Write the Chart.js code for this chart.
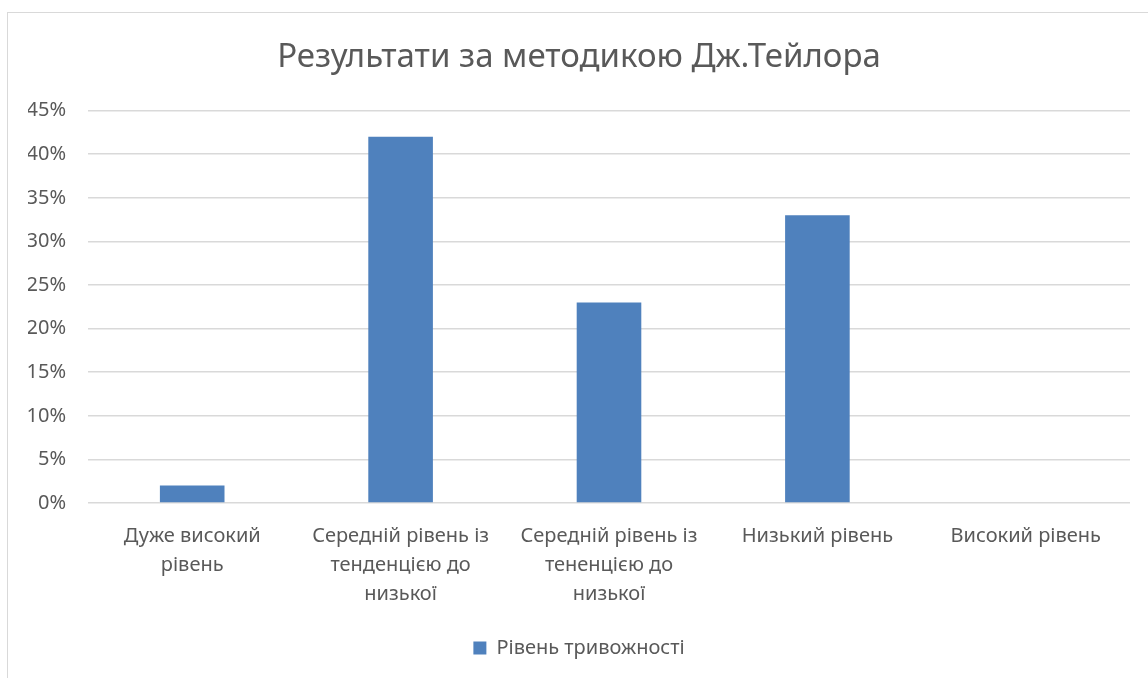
<!DOCTYPE html>
<html>
<head>
<meta charset="utf-8">
<script src="https://cdn.jsdelivr.net/npm/chart.js@4"></script>
<style>
    html, body { margin: 0; padding: 0; background: #fff; overflow: hidden; }
    #frame { position: absolute; left: 7px; top: 12px; width: 1200px; height: 700px; border: 1px solid #d9d9d9; }
    #wrap { position: absolute; left: 0; top: 0; width: 1148px; height: 678px; }
</style>
</head>
<body>
<div id="frame"></div>
<div id="wrap"><canvas id="chart"></canvas></div>
<script>
// Chart data
const categories = [
    ['Дуже високий', 'рівень'],
    ['Середній рівень із', 'тенденцією до', 'низької'],
    ['Середній рівень із', 'тененцією до', 'низької'],
    'Низький рівень',
    'Високий рівень'
];
const seriesName = 'Рівень тривожності';
const seriesValues = [2, 42, 23, 33, 0];
const chartTitle = 'Результати за методикою Дж.Тейлора';

const textColor = '#595959';
const fontFamily = '"Noto Sans", "Open Sans", sans-serif';

const ctx = document.getElementById('chart').getContext('2d');
new Chart(ctx, {
    type: 'bar',
    data: {
        labels: categories,
        datasets: [{
            label: seriesName,
            data: seriesValues,
            backgroundColor: '#4f81bd',
            borderWidth: 0,
            categoryPercentage: 1,
            barPercentage: 0.31
        }]
    },
    options: {
        responsive: true,
        maintainAspectRatio: false,
        animation: false,
        layout: { padding: { left: 28, right: 18, top: 0, bottom: 10 } },
        plugins: {
            title: {
                display: true,
                text: chartTitle,
                color: textColor,
                font: { family: fontFamily, size: 33, weight: 'normal' },
                padding: { top: 38, bottom: 33 }
            },
            legend: {
                position: 'bottom',
                labels: {
                    color: textColor,
                    font: { family: fontFamily, size: 20 },
                    boxWidth: 13,
                    boxHeight: 13,
                    padding: 10
                }
            },
            tooltip: { enabled: false }
        },
        scales: {
            x: {
                afterFit: scale => { scale.height += 8; },
                grid: { display: false },
                border: { display: false },
                ticks: {
                    color: textColor,
                    font: { family: fontFamily, size: 20, lineHeight: 1.45 },
                    padding: 11,
                    maxRotation: 0,
                    autoSkip: false
                }
            },
            y: {
                min: 0,
                max: 45,
                afterFit: scale => { scale.width = 60; },
                grid: { color: '#d9d9d9', lineWidth: 1.5, drawTicks: false },
                border: { display: false },
                ticks: {
                    stepSize: 5,
                    color: textColor,
                    font: { family: fontFamily, size: 20 },
                    padding: 22,
                    callback: v => v + '%'
                }
            }
        }
    }
});
</script>
</body>
</html>
